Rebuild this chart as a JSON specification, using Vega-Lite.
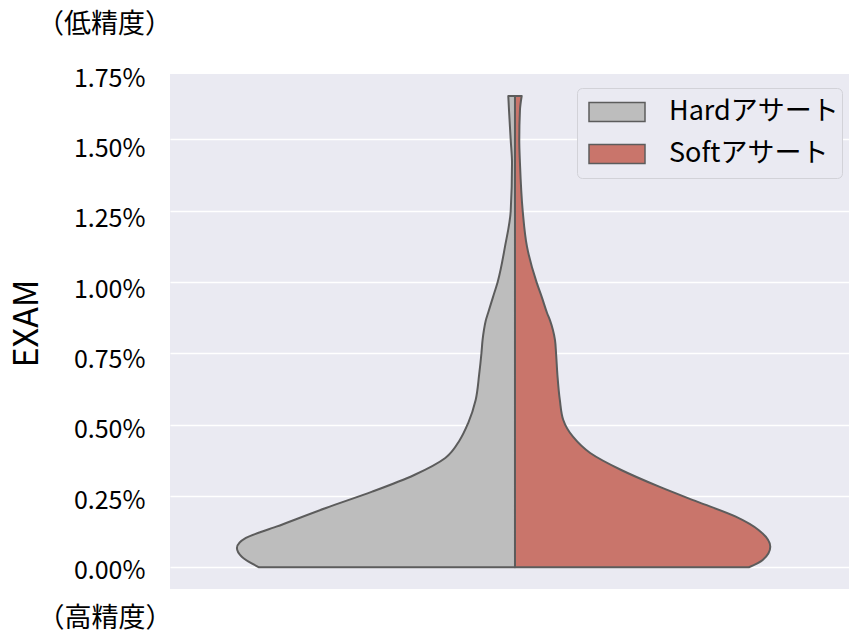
{
  "$schema": "https://vega.github.io/schema/vega-lite/v6.json",
  "width": 679,
  "height": 515,
  "autosize": {"type": "none"},
  "padding": {"left": 170, "top": 74, "right": 0, "bottom": 46},
  "background": "white",
  "config": {
    "view": {"fill": "#eaeaf2", "stroke": null},
    "font": "Noto Sans CJK JP",
    "axis": {"labelFont": "Noto Sans CJK JP", "titleFont": "Noto Sans CJK JP", "labelColor": "#000000", "titleColor": "#000000"},
    "legend": {"labelFont": "Noto Sans CJK JP"}
  },
  "title": {
    "text": "（低精度）",
    "anchor": "start",
    "frame": "group",
    "dx": -133,
    "offset": 27,
    "fontSize": 27,
    "fontWeight": "normal",
    "font": "Noto Sans CJK JP",
    "color": "#000000"
  },
  "datasets": {
    "violin": [
      {"side": "Hardアサート", "y": 0, "from": -0.371, "to": 0},
      {"side": "Hardアサート", "y": 0.000372, "from": -0.396, "to": 0},
      {"side": "Hardアサート", "y": 0.000676, "from": -0.403, "to": 0},
      {"side": "Hardアサート", "y": 0.001027, "from": -0.390, "to": 0},
      {"side": "Hardアサート", "y": 0.001423, "from": -0.346, "to": 0},
      {"side": "Hardアサート", "y": 0.002078, "from": -0.274, "to": 0},
      {"side": "Hardアサート", "y": 0.00265, "from": -0.207, "to": 0},
      {"side": "Hardアサート", "y": 0.003235, "from": -0.146, "to": 0},
      {"side": "Hardアサート", "y": 0.003831, "from": -0.101, "to": 0},
      {"side": "Hardアサート", "y": 0.004462, "from": -0.080, "to": 0},
      {"side": "Hardアサート", "y": 0.005047, "from": -0.068, "to": 0},
      {"side": "Hardアサート", "y": 0.005864, "from": -0.057, "to": 0},
      {"side": "Hardアサート", "y": 0.00674, "from": -0.052, "to": 0},
      {"side": "Hardアサート", "y": 0.007511, "from": -0.0486, "to": 0},
      {"side": "Hardアサート", "y": 0.00796, "from": -0.0470, "to": 0},
      {"side": "Hardアサート", "y": 0.008317, "from": -0.0450, "to": 0},
      {"side": "Hardアサート", "y": 0.008636, "from": -0.0425, "to": 0},
      {"side": "Hardアサート", "y": 0.008913, "from": -0.0390, "to": 0},
      {"side": "Hardアサート", "y": 0.00946, "from": -0.0320, "to": 0},
      {"side": "Hardアサート", "y": 0.01001, "from": -0.025, "to": 0},
      {"side": "Hardアサート", "y": 0.011237, "from": -0.0145, "to": 0},
      {"side": "Hardアサート", "y": 0.012488, "from": -0.0062, "to": 0},
      {"side": "Hardアサート", "y": 0.01417, "from": -0.0043, "to": 0},
      {"side": "Hardアサート", "y": 0.014976, "from": -0.0062, "to": 0},
      {"side": "Hardアサート", "y": 0.016028, "from": -0.0087, "to": 0},
      {"side": "Hardアサート", "y": 0.016519, "from": -0.0097, "to": 0},
      {"side": "Softアサート", "y": 0, "from": 0, "to": 0.339},
      {"side": "Softアサート", "y": 0.000256, "from": 0, "to": 0.359},
      {"side": "Softアサート", "y": 0.000722, "from": 0, "to": 0.370},
      {"side": "Softアサート", "y": 0.001307, "from": 0, "to": 0.353},
      {"side": "Softアサート", "y": 0.001773, "from": 0, "to": 0.320},
      {"side": "Softアサート", "y": 0.002299, "from": 0, "to": 0.264},
      {"side": "Softアサート", "y": 0.002825, "from": 0, "to": 0.209},
      {"side": "Softアサート", "y": 0.00341, "from": 0, "to": 0.154},
      {"side": "Softアサート", "y": 0.004006, "from": 0, "to": 0.109},
      {"side": "Softアサート", "y": 0.004577, "from": 0, "to": 0.084},
      {"side": "Softアサート", "y": 0.005163, "from": 0, "to": 0.070},
      {"side": "Softアサート", "y": 0.005864, "from": 0, "to": 0.065},
      {"side": "Softアサート", "y": 0.00674, "from": 0, "to": 0.0615},
      {"side": "Softアサート", "y": 0.007511, "from": 0, "to": 0.0595},
      {"side": "Softアサート", "y": 0.00796, "from": 0, "to": 0.0580},
      {"side": "Softアサート", "y": 0.008317, "from": 0, "to": 0.0550},
      {"side": "Softアサート", "y": 0.008636, "from": 0, "to": 0.0510},
      {"side": "Softアサート", "y": 0.008913, "from": 0, "to": 0.0465},
      {"side": "Softアサート", "y": 0.00946, "from": 0, "to": 0.0390},
      {"side": "Softアサート", "y": 0.01001, "from": 0, "to": 0.031},
      {"side": "Softアサート", "y": 0.011237, "from": 0, "to": 0.0174},
      {"side": "Softアサート", "y": 0.012488, "from": 0, "to": 0.0112},
      {"side": "Softアサート", "y": 0.01417, "from": 0, "to": 0.0072},
      {"side": "Softアサート", "y": 0.014976, "from": 0, "to": 0.0062},
      {"side": "Softアサート", "y": 0.016028, "from": 0, "to": 0.0072},
      {"side": "Softアサート", "y": 0.016519, "from": 0, "to": 0.0097}
    ],
    "ticks": [
      {"v": 0}, {"v": 0.0025}, {"v": 0.005}, {"v": 0.0075},
      {"v": 0.01}, {"v": 0.0125}, {"v": 0.015}, {"v": 0.0175}
    ]
  },
  "layer": [
    {
      "data": {"name": "violin"},
      "mark": {"type": "area", "orient": "horizontal", "interpolate": "monotone", "stroke": "#5c5c5c", "strokeWidth": 2, "fillOpacity": 1, "strokeJoin": "round"},
      "encoding": {
        "y": {
          "field": "y", "type": "quantitative",
          "scale": {"domain": [-0.000761, 0.017289], "nice": false, "zero": false},
          "axis": {"orient": "left", "values": [0, 0.0025, 0.005, 0.0075, 0.01, 0.0125, 0.015], "labels": false, "ticks": false, "domain": false, "title": null, "grid": true, "gridColor": "#ffffff", "gridWidth": 1.5}
        },
        "x": {
          "field": "from", "type": "quantitative",
          "scale": {"domain": [-0.5, 0.4841], "nice": false, "zero": false},
          "axis": {"orient": "bottom", "labels": false, "ticks": false, "domain": false, "grid": false,
                   "title": "（高精度）", "titleFontSize": 27, "titleFontWeight": "normal", "titleAnchor": "start", "titleAlign": "left", "titleBaseline": "middle", "titleX": -133, "titleY": 29}
        },
        "x2": {"field": "to"},
        "color": {
          "field": "side", "type": "nominal",
          "scale": {"domain": ["Hardアサート", "Softアサート"], "range": ["#bdbdbd", "#c9756b"]},
          "legend": {
            "title": null, "orient": "none", "legendX": 407, "legendY": 14,
            "fillColor": "#eaeaf2", "strokeColor": "#d2d2d8", "cornerRadius": 5, "padding": 3,
            "symbolOffset": 8, "clipHeight": 42,
            "labelFontSize": 27, "labelColor": "#000000", "labelOffset": 23, "labelLimit": 400,
            "symbolType": "M-1,-0.34H1V0.34H-1Z", "symbolSize": 3136,
            "symbolStrokeColor": "#5c5c5c", "symbolStrokeWidth": 1.5, "symbolOpacity": 1,
            "rowPadding": -2
          }
        }
      }
    },
    {
      "data": {"name": "ticks"},
      "mark": {"type": "rule", "opacity": 0},
      "encoding": {
        "y": {
          "field": "v", "type": "quantitative",
          "scale": {"domain": [-0.000654, 0.017643], "nice": false, "zero": false},
          "axis": {"orient": "left", "values": [0, 0.0025, 0.005, 0.0075, 0.01, 0.0125, 0.015, 0.0175], "format": ".2%", "grid": false, "ticks": false, "domain": false,
                   "labelFontSize": 25, "labelPadding": 25,
                   "title": "EXAM", "titleFontSize": 34, "titleFontWeight": "normal", "titleAngle": 270, "titleAlign": "center", "titleBaseline": "middle", "titleX": -143, "titleY": 249}
        }
      }
    }
  ],
  "resolve": {"scale": {"y": "independent"}, "axis": {"y": "independent"}}
}
